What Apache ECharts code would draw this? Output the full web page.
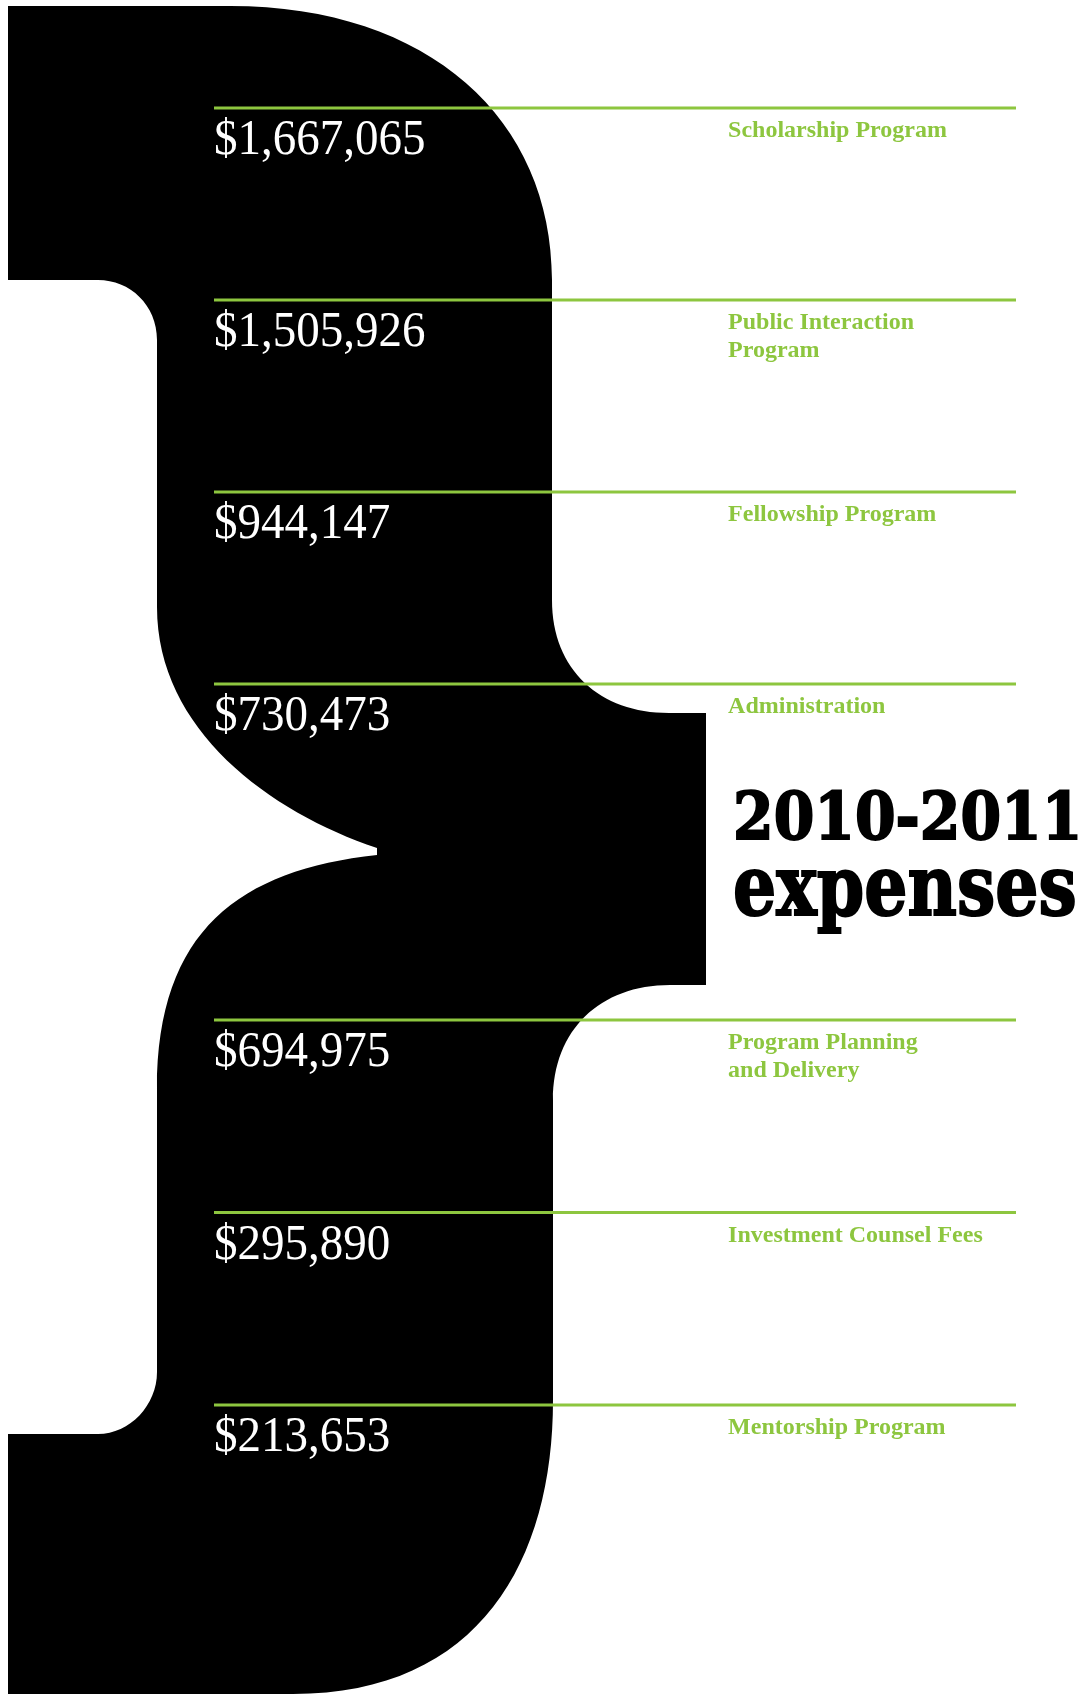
<!DOCTYPE html>
<html>
<head>
<meta charset="utf-8">
<script src="https://cdn.jsdelivr.net/npm/echarts@6/dist/echarts.min.js"></script>
<style>
html,body{margin:0;padding:0;background:#fff;}
#c{width:1087px;height:1694px;}
</style>
</head>
<body>
<div id="c"></div>
<script>
// ---- data ----
const categories = [
  'Scholarship Program',
  'Public Interaction\nProgram',
  'Fellowship Program',
  'Administration',
  'Program Planning\nand Delivery',
  'Investment Counsel Fees',
  'Mentorship Program'
];
const values = [1667065, 1505926, 944147, 730473, 694975, 295890, 213653];
const titleLines = ['2010-2011', 'expenses'];
const splitAt = 4; // rows above the title / below the title

// ---- style ----
const GREEN = '#8dc63f';
const labelColumn = 0.641; // x position (axis units) of the category label column

const catTop = categories.slice(0, splitAt);
const catBottom = categories.slice(splitAt);

function fmt(v) { return '$' + v.toLocaleString('en-US'); }

function makeRender(offset) {
  return function (params, api) {
    const idx = api.value(1);
    const g = offset + idx;
    const p0 = api.coord([0, idx]);
    const p1 = api.coord([1, idx]);
    const pl = api.coord([labelColumn, idx]);
    return {
      type: 'group',
      children: [
        { type: 'line', shape: { x1: p0[0], y1: p0[1], x2: p1[0], y2: p1[1] },
          style: { stroke: GREEN, lineWidth: 3 } },
        { type: 'text', x: p0[0], y: p0[1] + 8, scaleX: 0.94,
          style: { text: fmt(values[g]), fill: '#fff',
            font: '50px "Liberation Serif"', lineHeight: 50,
            textAlign: 'left', textVerticalAlign: 'top' } },
        { type: 'text', x: pl[0], y: p0[1] + 9,
          style: { text: categories[g], fill: GREEN,
            font: 'bold 24px "Liberation Serif"', lineHeight: 28,
            textAlign: 'left', textVerticalAlign: 'top' } }
      ]
    };
  };
}

// decorative brace outline (page pixels)
const bracePath =
  'M 8 6 L 230 6 C 430 6 552 120 552 280 ' +
  'L 552 600 C 552 670 600 713 669 713 L 706 713 L 706 985 L 670 985 ' +
  'C 600 985 553 1030 553 1100 L 553 1400 C 553 1560 480 1694 293 1694 ' +
  'L 8 1694 L 8 1434 L 98 1434 C 130 1434 157 1405 157 1372 ' +
  'L 157 1089 C 157 930 240 870 377 855 L 377 848 ' +
  'C 270 812 157 730 157 607 L 157 340 C 157 305 130 280 98 280 L 8 280 Z';

const chart = echarts.init(document.getElementById('c'), null, { renderer: 'canvas' });
chart.setOption({
  backgroundColor: '#fff',
  animation: false,
  grid: [
    { left: 214, right: 71, top: 108, height: 576 },
    { left: 214, right: 71, top: 1020, height: 385 }
  ],
  xAxis: [
    { gridIndex: 0, type: 'value', min: 0, max: 1, show: false },
    { gridIndex: 1, type: 'value', min: 0, max: 1, show: false }
  ],
  yAxis: [
    { gridIndex: 0, type: 'category', data: catTop, inverse: true, boundaryGap: false, show: false },
    { gridIndex: 1, type: 'category', data: catBottom, inverse: true, boundaryGap: false, show: false }
  ],
  graphic: [
    { type: 'text', z: 1, x: 733, y: 822, scaleX: 0.885,
      style: { text: titleLines[0], fill: '#000', stroke: '#000', lineWidth: 2,
        font: 'bold 66px "DejaVu Serif"',
        textAlign: 'left', textVerticalAlign: 'middle' } },
    { type: 'text', z: 1, x: 733, y: 893, scaleX: 0.85, scaleY: 1.05,
      style: { text: titleLines[1], fill: '#000', stroke: '#000', lineWidth: 2,
        font: 'bold 80px "DejaVu Serif"',
        textAlign: 'left', textVerticalAlign: 'middle' } }
  ],
  series: [
    { type: 'custom', coordinateSystem: 'none', z: 1, silent: true,
      data: [0],
      renderItem: function () {
        return { type: 'path', shape: { pathData: bracePath }, style: { fill: '#000' } };
      } },
    { type: 'custom', xAxisIndex: 0, yAxisIndex: 0, z: 10, silent: true,
      data: catTop.map((c, i) => [0, i]), renderItem: makeRender(0) },
    { type: 'custom', xAxisIndex: 1, yAxisIndex: 1, z: 10, silent: true,
      data: catBottom.map((c, i) => [0, i]), renderItem: makeRender(splitAt) }
  ]
});
</script>
</body>
</html>
